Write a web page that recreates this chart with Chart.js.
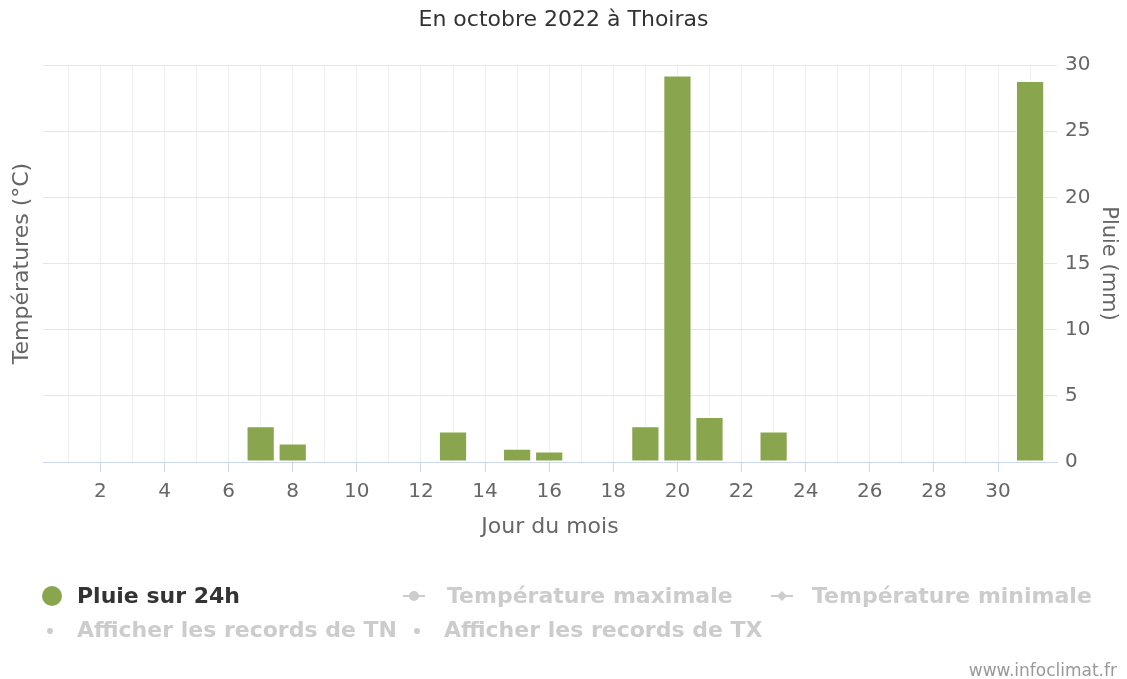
<!DOCTYPE html>
<html lang="fr">
<head>
<meta charset="utf-8">
<title>En octobre 2022 à Thoiras</title>
<script src="https://cdn.jsdelivr.net/npm/chart.js@4.4.0/dist/chart.umd.min.js"></script>
<style>
    body { margin: 0; background: #fff; }
    #wrap { position: relative; width: 1127px; height: 679px; font-family: "DejaVu Sans", sans-serif; }
    #rainChart { position: absolute; left: 0; top: 0; }
    .leg { position: absolute; font-weight: bold; font-size: 22px; line-height: 26px; white-space: nowrap; color: #cccccc; }
    .leg.on { color: #333333; }
    .sym { position: absolute; }
    #credits { position: absolute; right: 10px; top: 660px; font-size: 17px; line-height: 20px; color: #999999; }
</style>
</head>
<body>
<div id="wrap">
    <canvas id="rainChart" width="1127" height="679"></canvas>

    <!-- legend, Highcharts style -->
    <svg class="sym" style="left:40px;top:584px" width="24" height="24"><circle cx="12" cy="12" r="10" fill="#89a54e"/></svg>
    <div class="leg on" style="left:77px;top:583px">Pluie sur 24h</div>

    <svg class="sym" style="left:402px;top:588px" width="24" height="16"><line x1="1" y1="8" x2="23" y2="8" stroke="#cccccc" stroke-width="2"/><circle cx="12" cy="8" r="5" fill="#cccccc"/></svg>
    <div class="leg" style="left:447px;top:583px">Température maximale</div>

    <svg class="sym" style="left:770px;top:588px" width="24" height="16"><line x1="1" y1="8" x2="23" y2="8" stroke="#cccccc" stroke-width="2"/><path d="M12 3 L17 8 L12 13 L7 8 Z" fill="#cccccc"/></svg>
    <div class="leg" style="left:812px;top:583px">Température minimale</div>

    <svg class="sym" style="left:45px;top:626px" width="10" height="10"><circle cx="5" cy="5" r="3" fill="#cccccc"/></svg>
    <div class="leg" style="left:77px;top:617px">Afficher les records de TN</div>

    <svg class="sym" style="left:412px;top:626px" width="10" height="10"><circle cx="5" cy="5" r="3" fill="#cccccc"/></svg>
    <div class="leg" style="left:444px;top:617px">Afficher les records de TX</div>

    <div id="credits">www.infoclimat.fr</div>
</div>

<script>
// ---------- DATA ----------
const days = [1, 2, 3, 4, 5, 6, 7, 8, 9, 10, 11, 12, 13, 14, 15, 16,
              17, 18, 19, 20, 21, 22, 23, 24, 25, 26, 27, 28, 29, 30, 31];
// rain over 24h, mm
const rainMm = [0, 0, 0, 0, 0, 0, 2.7, 1.4, 0, 0, 0, 0, 2.3, 0, 1.0, 0.8,
                0, 0, 2.7, 29.2, 3.4, 0, 2.3, 0, 0, 0, 0, 0, 0, 0, 28.8];
const rainTicks = [0, 5, 10, 15, 20, 25, 30];

const FONT = '"DejaVu Sans", sans-serif';

// ---------- CHART ----------
const ctx = document.getElementById('rainChart').getContext('2d');

new Chart(ctx, {
    type: 'bar',
    data: {
        labels: days,
        datasets: [{
            label: 'Pluie sur 24h',
            data: rainMm,
            yAxisID: 'rain',
            backgroundColor: '#89a54e',
            borderColor: '#ffffff',
            borderWidth: 1,
            borderSkipped: false,
            barPercentage: 0.88,
            categoryPercentage: 1
        }]
    },
    options: {
        responsive: false,
        animation: false,
        layout: { padding: { left: 0, right: 0, top: 0, bottom: 134 } },
        plugins: {
            legend: { display: false },
            tooltip: { enabled: false },
            title: {
                display: true,
                text: 'En octobre 2022 à Thoiras',
                color: '#333333',
                font: { family: FONT, size: 22, weight: 'normal' },
                padding: { top: 7, bottom: 31.6 }
            }
        },
        scales: {
            x: {
                type: 'linear',
                position: 'bottom',
                offset: false,
                min: 0.21,
                max: 31.84,
                // one grid line per day, a label every second day
                afterBuildTicks: (scale) => { scale.ticks = days.map(d => ({ value: d })); },
                afterFit: (scale) => { scale.height = 83; },
                ticks: {
                    autoSkip: false,
                    maxRotation: 0,
                    padding: 8,
                    color: '#666666',
                    font: { family: FONT, size: 20 },
                    callback: (v) => (v % 2 === 0 ? v : '')
                },
                grid: {
                    offset: false,
                    color: '#eeeeee',
                    lineWidth: 1,
                    drawTicks: true,
                    tickLength: 10,
                    tickWidth: 1,
                    tickColor: (c) => (c.tick && c.tick.value % 2 === 0 ? '#ccd6eb' : 'rgba(0,0,0,0)')
                },
                border: { display: true, color: '#ccd6eb', width: 1 },
                title: {
                    display: true,
                    text: 'Jour du mois',
                    color: '#666666',
                    font: { family: FONT, size: 22 },
                    padding: { top: 0, bottom: 5 }
                }
            },
            temp: {
                type: 'linear',
                position: 'left',
                afterFit: (scale) => { scale.width = 43; },
                ticks: { display: false },
                grid: { display: false },
                border: { display: false },
                title: {
                    display: true,
                    text: 'Températures (°C)',
                    color: '#666666',
                    font: { family: FONT, size: 22 },
                    padding: { top: 8.8, bottom: 0 }
                }
            },
            rain: {
                type: 'linear',
                position: 'right',
                min: 0,
                max: 30,
                afterBuildTicks: (scale) => { scale.ticks = rainTicks.map(v => ({ value: v })); },
                afterFit: (scale) => { scale.width = 70; },
                ticks: {
                    padding: 8,
                    color: '#666666',
                    font: { family: FONT, size: 20 }
                },
                grid: {
                    drawTicks: false,
                    lineWidth: 1,
                    color: (c) => (c.tick && c.tick.value === 0 ? 'rgba(0,0,0,0)' : '#e6e6e6')
                },
                border: { display: false },
                title: {
                    display: true,
                    text: 'Pluie (mm)',
                    color: '#666666',
                    font: { family: FONT, size: 21 },
                    padding: { top: 6.4, bottom: 0 }
                }
            }
        }
    }
});
</script>
</body>
</html>
